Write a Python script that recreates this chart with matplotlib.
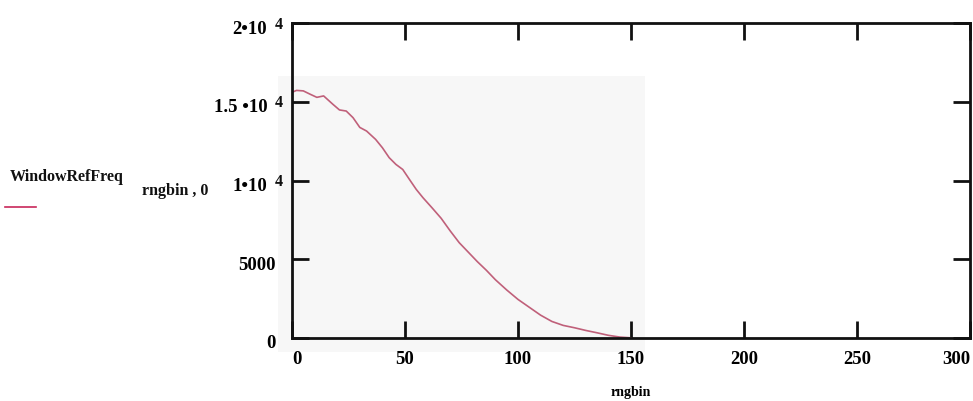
import matplotlib
matplotlib.use('Agg')
import matplotlib.pyplot as plt
import matplotlib.patches as mpatches
from matplotlib.transforms import Bbox, ScaledTranslation

plt.rcParams['font.family'] = ['Liberation Serif', 'DejaVu Serif']

# values
rngbin = [0, 2, 5, 8, 11, 14, 18, 21, 24, 27, 30, 33, 37, 40, 43, 46, 49, 52,
          55, 58, 62, 66, 70, 74, 78, 82, 86, 90, 95, 100, 105, 110, 115, 120,
          125, 130, 135, 140, 145, 150]
window_ref_freq = [15600, 15720, 15690, 15480, 15280, 15370, 14850, 14480,
                   14410, 13990, 13370, 13140, 12610, 12080, 11450, 11020,
                   10700, 10060, 9430, 8900, 8260, 7600, 6800, 6050, 5450,
                   4850, 4300, 3700, 3050, 2450, 1950, 1450, 1050, 800, 650,
                   480, 330, 170, 60, 10]

x_ticks = [0, 50, 100, 150, 200, 250, 300]
y_ticks = [0, 5000, 10000, 15000, 20000]
# Mathcad writes the big values as mantissa*10 with a superscript exponent
y_tick_base = ['0', '5000', '1\u202210', '1.5 \u202210', '2\u202210']
y_tick_exp = ['', '', '4', '4', '4']

W, H = 973, 401
fig = plt.figure(figsize=(W / 100, H / 100), dpi=100)
ax = fig.add_axes([292 / W, 1 - 338 / H, 678 / W, 315 / H])
ax.set_facecolor('none')

# light grey scanned patch behind the curve
patch = mpatches.Rectangle((278 / W, 1 - 352 / H), 367 / W, 276 / H,
                           transform=fig.transFigure, facecolor='#f7f7f7',
                           edgecolor='none', zorder=0.5, clip_on=False)
ax.add_patch(patch)

ax.plot(rngbin, window_ref_freq, color='#c0607a', lw=1.2, zorder=2)

ax.set_xlim(0, 300)
ax.set_ylim(0, 20000)
ax.set_xticks(x_ticks)
ax.set_xticklabels([str(t) for t in x_ticks])
ax.set_yticks(y_ticks)
ax.set_yticklabels(y_tick_base)

ax.tick_params(direction='in', length=12, width=2, top=True, right=True,
               labelsize=13.5, color='#111111')
ax.tick_params(axis='y', pad=12)
ax.tick_params(axis='x', pad=9)
for lab in ax.get_xticklabels() + ax.get_yticklabels():
    lab.set_fontweight('bold')
for sp in ax.spines.values():
    sp.set_linewidth(2)
    sp.set_color('#111111')

xlabs = ax.get_xticklabels()
xlabs[0].set_horizontalalignment('left')
xlabs[-1].set_horizontalalignment('right')

# y labels sit a bit below their ticks; make room for the exponents
ylabs = ax.get_yticklabels()
for lab, e in zip(ylabs, y_tick_exp):
    dx = -8 / 100 if e else 0
    lab.set_transform(lab.get_transform() +
                      ScaledTranslation(dx, -4 / 100, fig.dpi_scale_trans))
for val, e in zip(y_ticks, y_tick_exp):
    if e:
        ax.annotate(e, xy=(0, val), xycoords=('axes fraction', 'data'),
                    xytext=(-7.0, -7.0), textcoords='offset points',
                    ha='right', va='bottom', fontsize=11.5, fontweight='bold',
                    color='#111111', annotation_clip=False)

# the grey patch covers the end of the 5000 label
ylabs[1].set_clip_box(Bbox([[0, 0], [279, H]]))
ylabs[1].set_clip_on(True)

ax.set_xlabel('rngbin', fontsize=10, fontweight='bold', labelpad=13)

# Mathcad style trace name on the left
fig.text(10 / W, 1 - 177 / H, 'WindowRefFreq', fontsize=11.5, fontweight='bold',
         ha='left', va='center', color='#111111')
fig.text(142 / W, 1 - 191 / H, 'rngbin , 0', fontsize=11.5, fontweight='bold',
         ha='left', va='center', color='#111111')
fig.add_artist(plt.Line2D([5 / W, 36 / W], [1 - 207 / H, 1 - 207 / H],
                          color='#c8285a', lw=1.2, transform=fig.transFigure))

fig.savefig('out.png', dpi=100, facecolor='white')
